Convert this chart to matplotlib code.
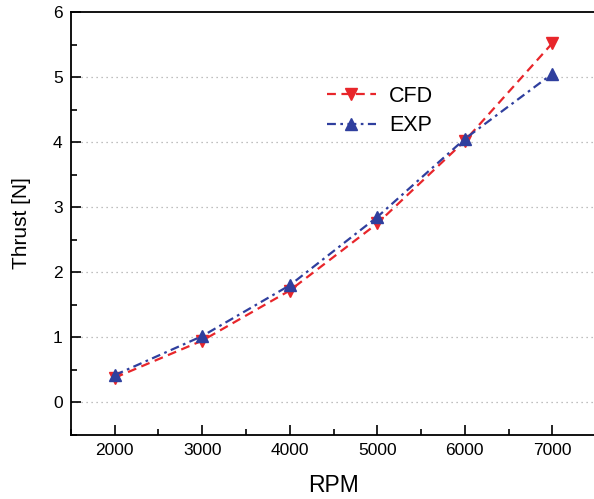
import numpy as np
import matplotlib
matplotlib.use("Agg")
import matplotlib.pyplot as plt
from matplotlib.ticker import MultipleLocator

plt.rcParams['font.family'] = ['Liberation Sans', 'DejaVu Sans']

# data
rpm = [2000, 3000, 4000, 5000, 6000, 7000]
thrust_cfd = [0.38, 0.95, 1.72, 2.75, 4.02, 5.52]
thrust_exp = [0.42, 1.02, 1.80, 2.85, 4.05, 5.05]

red = '#e8262b'
blue = '#2f3f9e'

fig = plt.figure(figsize=(5.94, 4.99), dpi=100)
ax = fig.add_axes([0.1195, 0.1283, 0.884, 0.8477])

ax.plot(rpm, thrust_cfd, color=red, lw=1.6, ls=(0, (4, 2.5)),
        marker='v', ms=9, mec=red, mfc=red, label='CFD')
ax.plot(rpm, thrust_exp, color=blue, lw=1.6, ls=(0, (4, 2, 1.2, 2)),
        marker='^', ms=9, mec=blue, mfc=blue, label='EXP')

ax.set_xlim(1500, 7500)
ax.set_ylim(-0.5, 6)
ax.xaxis.set_major_locator(MultipleLocator(1000))
ax.xaxis.set_minor_locator(MultipleLocator(500))
ax.yaxis.set_major_locator(MultipleLocator(1))
ax.yaxis.set_minor_locator(MultipleLocator(0.5))

ax.tick_params(which='both', direction='in', width=1.2, labelsize=12.5,
               top=False, right=False)
ax.tick_params(which='major', length=7, pad=6)
ax.tick_params(which='minor', length=4)

for yv in range(0, 6):
    ax.axhline(yv, color='#aaaaaa', lw=0.9, ls=(0, (1, 3)), zorder=0)

for s in ax.spines.values():
    s.set_linewidth(1.3)
ax.spines['right'].set_visible(False)

ax.set_xlabel('RPM', fontsize=16.5, labelpad=11)
ax.set_ylabel('Thrust [N]', fontsize=15, labelpad=16)

ax.legend(loc='center left', bbox_to_anchor=(0.45, 0.766), frameon=False,
          fontsize=15.5, handlelength=2.3, handletextpad=0.6, labelspacing=0.4)

fig.savefig('out.png', dpi=100)
